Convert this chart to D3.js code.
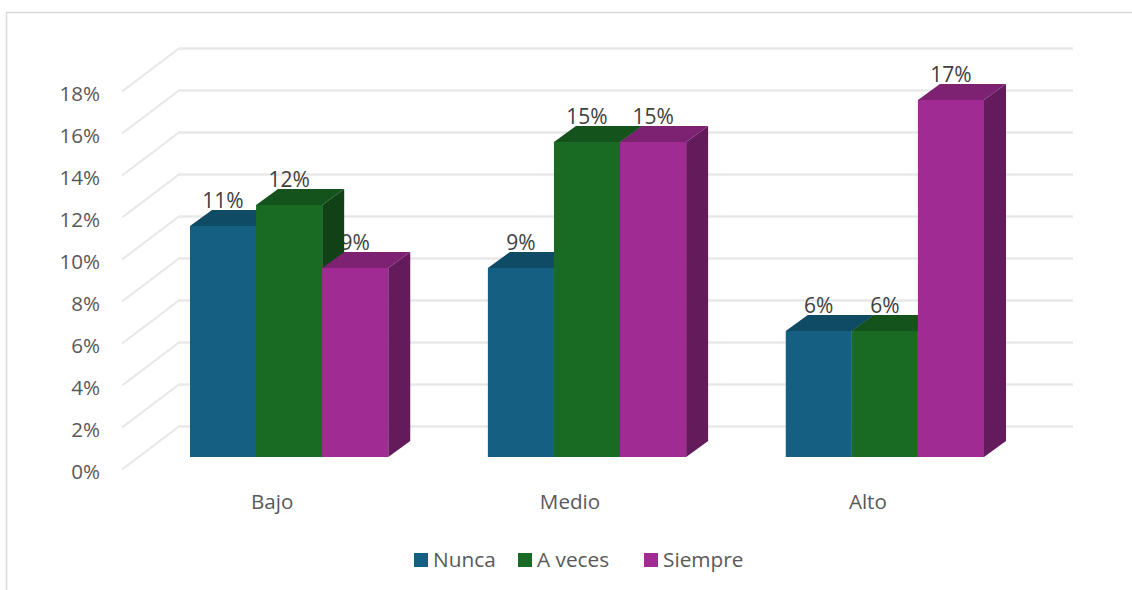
<!DOCTYPE html>
<html lang="es">

<head>
	<meta charset="utf-8">
	<title>Nunca / A veces / Siempre</title>
	<script src="https://d3js.org/d3.v7.min.js"></script>
	<style type="text/css">
	html, body { margin: 0; padding: 0; background: #fff; overflow: hidden; }
	svg { display: block; font-family: "Open Sans", sans-serif; }
	</style>
</head>

<body>
	<svg id="chart" width="1132" height="590"></svg>

	<script type="text/javascript">
	// data
	var categories = ["Bajo", "Medio", "Alto"]
	var seriesNames = ["Nunca", "A veces", "Siempre"]
	var nunca = [11, 9, 6]
	var aVeces = [12, 15, 6]
	var siempre = [9, 15, 17]
	var tickValues = [0, 2, 4, 6, 8, 10, 12, 14, 16, 18]
	var seriesColors = ["#156082", "#196B24", "#A02B93"]

	var rows = [nunca, aVeces, siempre]

	var svg = d3.select("#chart")

	// 3d depth of the bars and of the side wall
	var barDepth = {x: 22, y: 16}
	var wallDepth = {x: 57, y: 43}

	// scales
	var x0 = d3.scaleBand().domain(categories).range([190, 984]).paddingInner(0.3345).paddingOuter(0)
	var x1 = d3.scaleBand().domain(seriesNames).range([0, x0.bandwidth()])
	var yFront = d3.scaleLinear().domain([0, 18]).range([457, 79])
	var yBack = d3.scaleLinear().domain([0, 18]).range([426.5, 48.5])
	var yLeft = d3.scaleLinear().domain([0, 18]).range([469.5, 91.5])

	function shade(color, k) {
		var c = d3.rgb(color)
		return d3.rgb(c.r * k, c.g * k, c.b * k).formatHex()
	}

	// frame
	svg.append("path")
		.attr("d", "M6.5,590 V12.5 H1132")
		.attr("fill", "none")
		.attr("stroke", "#d9d9d9")
		.attr("stroke-width", 1.5)

	// grid, back wall and side wall
	var wallX = 179
	var grid = svg.append("g").selectAll("g").data(tickValues).enter().append("g")

	grid.append("line")
		.attr("x1", wallX - 1)
		.attr("x2", 1073)
		.attr("y1", d => yBack(d))
		.attr("y2", d => yBack(d))
		.attr("stroke", "#e8e8e8")
		.attr("stroke-width", 2.5)

	grid.append("line")
		.attr("x1", wallX - wallDepth.x)
		.attr("x2", wallX)
		.attr("y1", d => yLeft(d))
		.attr("y2", d => yBack(d))
		.attr("stroke", "#e6e6e6")
		.attr("stroke-width", 1.8)

	// y axis labels
	var yAxis = d3.axisLeft(yLeft)
		.tickValues(tickValues)
		.tickSize(0)
		.tickPadding(0)
		.tickFormat(d => d + "%")

	var yG = svg.append("g").attr("transform", "translate(100,2)").call(yAxis)
	yG.select(".domain").remove()
	yG.selectAll("text")
		.attr("font-family", "'Open Sans', sans-serif")
		.attr("font-size", 20.6)
		.attr("fill", "#595959")

	// flat table for the bars
	var bars = []
	categories.forEach((c, i) => {
		seriesNames.forEach((s, j) => {
			bars.push({cat: c, name: s, value: rows[j][i], color: seriesColors[j]})
		})
	})

	// labels go first, the 3d bars cover them (see the 9% in Bajo)
	svg.append("g").selectAll("text").data(bars).enter().append("text")
		.attr("x", d => x0(d.cat) + x1(d.name) + x1.bandwidth() / 2)
		.attr("y", d => yFront(d.value) - 18)
		.attr("text-anchor", "middle")
		.attr("font-size", 21)
		.attr("fill", "#404040")
		.text(d => d.value + "%")

	var bar = svg.append("g").selectAll("g").data(bars).enter().append("g")

	function sideFace(d) {
		var r = x0(d.cat) + x1(d.name) + x1.bandwidth()
		var top = yFront(d.value), bottom = yFront(0)
		return "M" + r + "," + top + "L" + (r + barDepth.x) + "," + (top - barDepth.y)
			+ "L" + (r + barDepth.x) + "," + (bottom - barDepth.y) + "L" + r + "," + bottom + "Z"
	}

	function topFace(d) {
		var l = x0(d.cat) + x1(d.name), r = l + x1.bandwidth()
		var top = yFront(d.value)
		return "M" + l + "," + top + "L" + (l + barDepth.x) + "," + (top - barDepth.y)
			+ "L" + (r + barDepth.x) + "," + (top - barDepth.y) + "L" + r + "," + top + "Z"
	}

	bar.append("path").attr("d", sideFace).attr("fill", d => shade(d.color, 0.62))
	bar.append("path").attr("d", topFace).attr("fill", d => shade(d.color, 0.78))
	bar.append("rect")
		.attr("x", d => x0(d.cat) + x1(d.name))
		.attr("y", d => yFront(d.value))
		.attr("width", x1.bandwidth())
		.attr("height", d => yFront(0) - yFront(d.value))
		.attr("fill", d => d.color)

	// category labels, they sit a bit left of the bars because of the 3d shift
	svg.append("g").selectAll("text").data(categories).enter().append("text")
		.attr("x", d => x0(d) + x0.bandwidth() / 2 - 17)
		.attr("y", 509)
		.attr("text-anchor", "middle")
		.attr("font-size", 20.6)
		.attr("fill", "#595959")
		.text(d => d)

	// legend
	var legendX = d3.scaleOrdinal().domain(seriesNames).range([414, 518, 644])
	var legend = svg.append("g").selectAll("g").data(seriesNames).enter().append("g")
		.attr("transform", d => "translate(" + legendX(d) + ",553)")

	legend.append("rect")
		.attr("width", 14)
		.attr("height", 14)
		.attr("fill", (d, i) => seriesColors[i])

	legend.append("text")
		.attr("x", 19)
		.attr("y", 14)
		.attr("font-size", 20.8)
		.attr("fill", "#595959")
		.text(d => d)
	</script>
</body>
</html>
